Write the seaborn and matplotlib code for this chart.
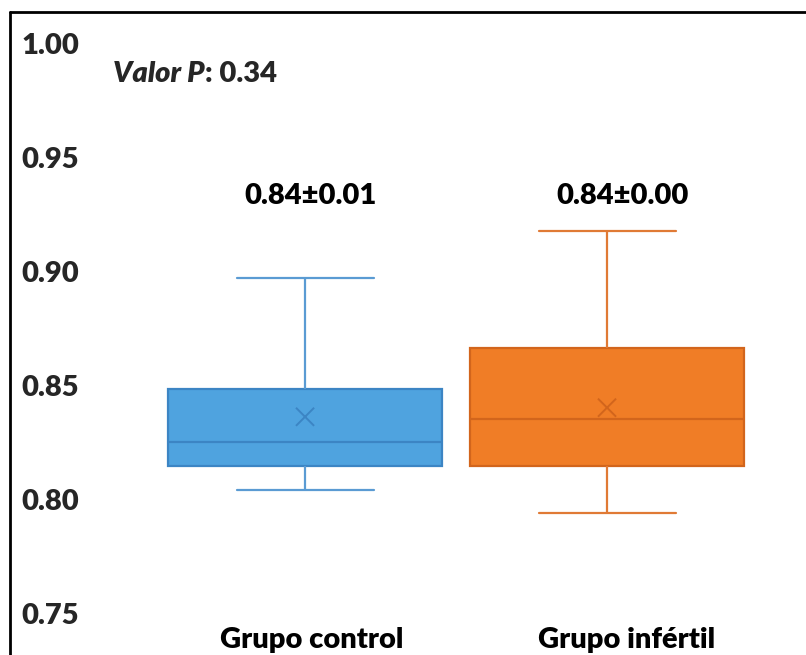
import numpy as np
import pandas as pd
import seaborn as sns
import matplotlib.pyplot as plt
from matplotlib.lines import Line2D

# Five-number summaries per group: min, Q1, median, Q3, max
groups = ["Grupo control", "Grupo infértil"]
control_summary = [0.8045, 0.8150, 0.8255, 0.8487, 0.8975]
infertil_summary = [0.7943, 0.8150, 0.8355, 0.8665, 0.9180]
group_means = [0.8365, 0.8405]
mean_labels = ["0.84±0.01", "0.84±0.00"]
p_value = "0.34"
y_ticks = [0.75, 0.80, 0.85, 0.90, 0.95, 1.00]

box_colors = ["#4FA3DF", "#F07D26"]
edge_colors = ["#3C85C4", "#D2651C"]
whisker_colors = ["#5A9BD3", "#E07A35"]

FS = 21
WEIGHT = "heavy"

sns.set_theme(style="white")
plt.rcParams["font.family"] = ["Lato", "DejaVu Sans"]

df = pd.DataFrame({
    "grupo": [groups[0]] * len(control_summary) + [groups[1]] * len(infertil_summary),
    "valor": control_summary + infertil_summary,
})

fig = plt.figure(figsize=(8.06, 6.55), dpi=100)
ax = fig.add_axes([100 / 806, 1 - 614 / 655, 700 / 806, 570 / 655])

sns.boxplot(data=df, x="grupo", y="valor", hue="grupo", palette=box_colors,
            whis=(0, 100), width=0.907, showfliers=False, legend=False, ax=ax,
            linewidth=1.6)

# recolour each box's outline, median, whiskers and caps
for i, patch in enumerate(ax.patches[:2]):
    patch.set_edgecolor(edge_colors[i])
    patch.set_facecolor(box_colors[i])
lines = ax.lines
per_box = len(lines) // 2
for i in range(2):
    for ln in lines[i * per_box:(i + 1) * per_box]:
        ln.set_color(whisker_colors[i])
        ln.set_linewidth(1.6)
    # median line is last in each group
    lines[i * per_box + per_box - 1].set_color(edge_colors[i])

# means as x markers
sns.scatterplot(x=[0, 1], y=group_means, marker="x", s=170, linewidth=1.4,
                hue=[0, 1], palette=edge_colors, legend=False, ax=ax, zorder=5)

# mean ± sd labels above each box
label_shift = [0.017, 0.05]
for i, lab in enumerate(mean_labels):
    ax.text(i + label_shift[i], 0.9333, lab, ha="center", va="center",
            fontsize=FS, fontweight=WEIGHT, color="black")

vp = ax.text(-0.635, 0.987, "Valor P", fontsize=FS, fontweight=WEIGHT,
             fontstyle="italic", ha="left", va="center")

ax.set_xlim(-0.679, 1.639)
ax.set_ylim(0.75, 1.00)
ax.set_yticks(y_ticks)
ax.set_yticklabels([f"{v:.2f}" for v in y_ticks])
ax.tick_params(axis="y", length=0, pad=15, labelsize=FS)
for lbl in ax.get_yticklabels():
    lbl.set_fontweight(WEIGHT)

# category names drawn under the axis, slightly right of each box centre
ax.set_xticks([0, 1])
ax.set_xticklabels([])
ax.tick_params(axis="x", length=0)
name_shift = [0.023, 0.066]
for i, g in enumerate(groups):
    ax.text(i + name_shift[i], -0.045, g, transform=ax.get_xaxis_transform(),
            ha="center", va="center", fontsize=FS, fontweight=WEIGHT,
            color="black")

ax.set_xlabel("")
ax.set_ylabel("")
for sp in ax.spines.values():
    sp.set_visible(False)

# italic "Valor P" followed by upright ": 0.34"
fig.canvas.draw()
bb = vp.get_window_extent()
fig.text(bb.x1 / fig.bbox.width, (bb.y0 + bb.y1) / 2 / fig.bbox.height,
         ": " + p_value, fontsize=FS, fontweight=WEIGHT, ha="left", va="center")

# frame along the left and top of the figure
fig.add_artist(Line2D([10 / 806, 10 / 806], [0, 1 - 12 / 655], color="black",
                      lw=2, transform=fig.transFigure))
fig.add_artist(Line2D([10 / 806, 1], [1 - 12 / 655, 1 - 12 / 655], color="black",
                      lw=2, transform=fig.transFigure))

fig.savefig("out.png", dpi=100)
